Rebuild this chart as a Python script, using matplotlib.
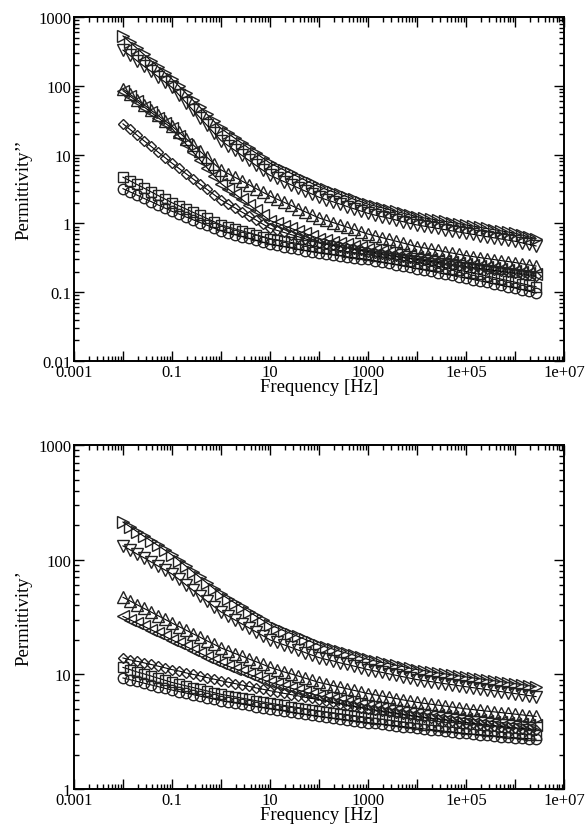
import matplotlib
matplotlib.use("Agg")
import matplotlib.pyplot as plt
from matplotlib.ticker import LogLocator, NullFormatter

plt.rcParams['font.family'] = ['Liberation Serif', 'DejaVu Serif']

# measurement frequencies [Hz], 7 points per decade
freq = [0.01, 0.0139, 0.0193, 0.0268, 0.0373, 0.0518, 0.072,
        0.1, 0.139, 0.193, 0.268, 0.373, 0.518, 0.72,
        1.0, 1.39, 1.93, 2.68, 3.73, 5.18, 7.2,
        10.0, 13.9, 19.3, 26.8, 37.3, 51.8, 72.0,
        100.0, 139.0, 193.0, 268.0, 373.0, 518.0, 720.0,
        1e3, 1.39e3, 1.93e3, 2.68e3, 3.73e3, 5.18e3, 7.2e3,
        1e4, 1.39e4, 1.93e4, 2.68e4, 3.73e4, 5.18e4, 7.2e4,
        1e5, 1.39e5, 1.93e5, 2.68e5, 3.73e5, 5.18e5, 7.2e5,
        1e6, 1.39e6, 1.93e6, 2.68e6]

# --- loss part (Permittivity'') ---
loss_right = [530, 431, 351, 285, 232, 189, 154,
              125, 98.7, 78.0, 61.6, 48.7, 38.5, 30.4,
              24.0, 20.3, 17.2, 14.6, 12.3, 10.5, 8.86,
              7.50, 6.70, 5.98, 5.34, 4.77, 4.26, 3.81,
              3.40, 3.13, 2.88, 2.65, 2.44, 2.24, 2.07,
              1.90, 1.79, 1.69, 1.59, 1.50, 1.41, 1.33,
              1.25, 1.20, 1.16, 1.11, 1.07, 1.03, 0.99,
              0.95, 0.913, 0.878, 0.844, 0.811, 0.779, 0.749,
              0.72, 0.678, 0.637, 0.60]
loss_down = [330, 276, 231, 193, 162, 136, 113,
             95, 73.7, 57.1, 44.3, 34.3, 26.6, 20.6,
             16, 13.5, 11.5, 9.72, 8.23, 6.97, 5.90,
             5.0, 4.50, 4.05, 3.65, 3.29, 2.96, 2.67,
             2.4, 2.22, 2.06, 1.91, 1.76, 1.63, 1.51,
             1.4, 1.32, 1.25, 1.19, 1.12, 1.06, 1.00,
             0.95, 0.913, 0.878, 0.844, 0.811, 0.779, 0.749,
             0.72, 0.693, 0.667, 0.641, 0.617, 0.594, 0.571,
             0.55, 0.522, 0.495, 0.47]
loss_up = [90, 75.4, 63.1, 52.9, 44.3, 37.1, 31.0,
           26, 21.1, 17.1, 13.9, 11.2, 9.12, 7.40,
           6.0, 5.30, 4.67, 4.12, 3.64, 3.21, 2.83,
           2.5, 2.25, 2.03, 1.83, 1.64, 1.48, 1.33,
           1.2, 1.11, 1.03, 0.953, 0.882, 0.817, 0.756,
           0.70, 0.659, 0.621, 0.585, 0.551, 0.519, 0.488,
           0.46, 0.441, 0.422, 0.404, 0.387, 0.371, 0.355,
           0.34, 0.329, 0.318, 0.308, 0.298, 0.288, 0.279,
           0.27, 0.259, 0.249, 0.24]
loss_left = [85, 71.0, 59.2, 49.4, 41.3, 34.4, 28.8,
             24, 18.4, 14.2, 10.9, 8.37, 6.43, 4.95,
             3.8, 3.18, 2.67, 2.23, 1.87, 1.57, 1.31,
             1.1, 1.01, 0.925, 0.848, 0.778, 0.714, 0.654,
             0.6, 0.572, 0.545, 0.520, 0.496, 0.473, 0.451,
             0.43, 0.414, 0.399, 0.384, 0.370, 0.356, 0.343,
             0.33, 0.319, 0.308, 0.298, 0.288, 0.278, 0.269,
             0.26, 0.251, 0.243, 0.235, 0.227, 0.219, 0.212,
             0.205, 0.198, 0.191, 0.185]
loss_diamond = [28, 23.2, 19.2, 15.9, 13.2, 10.9, 9.05,
                7.5, 6.30, 5.28, 4.44, 3.72, 3.12, 2.62,
                2.2, 1.92, 1.68, 1.46, 1.28, 1.12, 0.974,
                0.85, 0.792, 0.739, 0.688, 0.642, 0.598, 0.558,
                0.52, 0.499, 0.479, 0.460, 0.441, 0.423, 0.406,
                0.39, 0.376, 0.362, 0.348, 0.336, 0.323, 0.311,
                0.30, 0.290, 0.280, 0.270, 0.261, 0.252, 0.243,
                0.235, 0.228, 0.221, 0.215, 0.208, 0.202, 0.196,
                0.19, 0.184, 0.178, 0.172]
loss_square = [4.7, 4.16, 3.68, 3.26, 2.88, 2.55, 2.26,
               2.0, 1.80, 1.62, 1.45, 1.31, 1.18, 1.06,
               0.95, 0.890, 0.833, 0.780, 0.731, 0.684, 0.641,
               0.6, 0.576, 0.553, 0.530, 0.509, 0.489, 0.469,
               0.45, 0.434, 0.419, 0.404, 0.390, 0.376, 0.363,
               0.35, 0.337, 0.325, 0.313, 0.302, 0.291, 0.280,
               0.27, 0.259, 0.248, 0.237, 0.228, 0.218, 0.209,
               0.2, 0.190, 0.181, 0.172, 0.163, 0.155, 0.147,
               0.14, 0.133, 0.126, 0.12]
loss_circle = [3.2, 2.87, 2.58, 2.31, 2.08, 1.86, 1.67,
               1.5, 1.37, 1.24, 1.13, 1.03, 0.940, 0.856,
               0.78, 0.732, 0.687, 0.645, 0.605, 0.568, 0.533,
               0.5, 0.479, 0.459, 0.439, 0.421, 0.403, 0.386,
               0.37, 0.359, 0.348, 0.338, 0.328, 0.318, 0.309,
               0.3, 0.287, 0.275, 0.263, 0.251, 0.240, 0.230,
               0.22, 0.210, 0.201, 0.192, 0.183, 0.175, 0.167,
               0.16, 0.153, 0.146, 0.139, 0.132, 0.126, 0.121,
               0.115, 0.109, 0.103, 0.097]

# --- real part (Permittivity') ---
real_right = [213, 194, 176, 160, 146, 133, 121,
              110, 98.3, 87.8, 78.5, 70.1, 62.6, 56.0,
              50, 45.8, 41.9, 38.4, 35.2, 32.2, 29.5,
              27, 25.5, 24.0, 22.7, 21.4, 20.2, 19.1,
              18, 17.3, 16.6, 15.9, 15.3, 14.7, 14.1,
              13.5, 13.1, 12.7, 12.4, 12.0, 11.7, 11.3,
              11, 10.8, 10.5, 10.3, 10.1, 9.91, 9.70,
              9.5, 9.32, 9.14, 8.97, 8.80, 8.63, 8.46,
              8.3, 8.13, 7.96, 7.8]
real_down = [132, 122, 112, 104, 95.6, 88.1, 81.3,
             75, 67.3, 60.3, 54.1, 48.5, 43.5, 39.0,
             35, 32.3, 29.8, 27.5, 25.4, 23.5, 21.7,
             20, 19.0, 18.1, 17.2, 16.3, 15.5, 14.7,
             14, 13.5, 13.1, 12.6, 12.2, 11.8, 11.4,
             11, 10.7, 10.4, 10.1, 9.81, 9.53, 9.26,
             9, 8.82, 8.64, 8.46, 8.29, 8.13, 7.96,
             7.8, 7.65, 7.50, 7.36, 7.21, 7.07, 6.93,
             6.8, 6.66, 6.53, 6.4]
real_up = [47, 43.7, 40.5, 37.6, 35.0, 32.5, 30.2,
           28, 26.1, 24.3, 22.6, 21.1, 19.6, 18.3,
           17, 16.1, 15.2, 14.4, 13.6, 12.9, 12.2,
           11.5, 11.0, 10.5, 10.1, 9.68, 9.27, 8.88,
           8.5, 8.23, 7.98, 7.73, 7.48, 7.25, 7.02,
           6.8, 6.63, 6.47, 6.31, 6.15, 5.99, 5.85,
           5.7, 5.59, 5.49, 5.39, 5.29, 5.19, 5.10,
           5.0, 4.93, 4.85, 4.78, 4.71, 4.64, 4.57,
           4.5, 4.43, 4.36, 4.3]
real_left = [32, 29.9, 28.0, 26.2, 24.5, 22.9, 21.4,
             20, 18.7, 17.5, 16.4, 15.3, 14.3, 13.4,
             12.5, 11.8, 11.2, 10.6, 10.0, 9.49, 8.98,
             8.5, 8.18, 7.87, 7.58, 7.29, 7.02, 6.75,
             6.5, 6.31, 6.13, 5.96, 5.79, 5.62, 5.46,
             5.3, 5.19, 5.09, 4.99, 4.89, 4.79, 4.69,
             4.6, 4.53, 4.45, 4.38, 4.31, 4.24, 4.17,
             4.1, 4.04, 3.98, 3.92, 3.87, 3.81, 3.75,
             3.7, 3.67, 3.63, 3.6]
real_diamond = [13.9, 13.4, 13.0, 12.6, 12.2, 11.8, 11.4,
                11, 10.7, 10.3, 10.0, 9.69, 9.38, 9.09,
                8.8, 8.55, 8.31, 8.07, 7.85, 7.62, 7.41,
                7.2, 7.02, 6.83, 6.66, 6.49, 6.32, 6.16,
                6.0, 5.85, 5.70, 5.55, 5.41, 5.27, 5.13,
                5.0, 4.89, 4.79, 4.69, 4.59, 4.49, 4.39,
                4.3, 4.22, 4.15, 4.08, 4.01, 3.94, 3.87,
                3.8, 3.74, 3.68, 3.62, 3.57, 3.51, 3.45,
                3.4, 3.37, 3.33, 3.3]
real_square = [11.5, 11.0, 10.5, 10.1, 9.68, 9.27, 8.88,
               8.5, 8.22, 7.94, 7.68, 7.42, 7.17, 6.93,
               6.7, 6.53, 6.37, 6.20, 6.05, 5.89, 5.74,
               5.6, 5.48, 5.36, 5.24, 5.13, 5.02, 4.91,
               4.8, 4.71, 4.62, 4.53, 4.45, 4.36, 4.28,
               4.2, 4.12, 4.05, 3.98, 3.91, 3.84, 3.77,
               3.7, 3.65, 3.60, 3.55, 3.50, 3.45, 3.40,
               3.35, 3.31, 3.26, 3.22, 3.18, 3.13, 3.09,
               3.05, 3.02, 2.98, 2.95]
real_circle = [9.3, 8.98, 8.68, 8.38, 8.10, 7.82, 7.55,
               7.3, 7.08, 6.87, 6.66, 6.46, 6.27, 6.08,
               5.9, 5.76, 5.63, 5.50, 5.37, 5.24, 5.12,
               5.0, 4.89, 4.79, 4.69, 4.59, 4.49, 4.39,
               4.3, 4.22, 4.15, 4.08, 4.01, 3.94, 3.87,
               3.8, 3.74, 3.68, 3.62, 3.57, 3.51, 3.45,
               3.4, 3.35, 3.30, 3.25, 3.19, 3.15, 3.10,
               3.05, 3.01, 2.98, 2.94, 2.91, 2.87, 2.84,
               2.8, 2.77, 2.75, 2.72]

x_ticks = [1e-3, 1e-2, 1e-1, 1, 10, 100, 1e3, 1e4, 1e5, 1e6, 1e7]
x_tick_labels = ['0.001', '', '0.1', '', '10', '', '1000', '', '1e+05', '', '1e+07']
top_y_ticks = [0.01, 0.1, 1, 10, 100, 1000]
top_y_labels = ['0.01', '0.1', '1', '10', '100', '1000']
bot_y_ticks = [1, 10, 100, 1000]
bot_y_labels = ['1', '10', '100', '1000']

markers = ['>', 'v', '^', '<', 'D', 's', 'o']
sizes = [8, 8, 8, 8, 5, 7, 7.5]


def style_axes(ax, yticks, ylabels, ylim, ylabel):
    """ Grace-like log-log axes with inward ticks on every side. """
    ax.set_xscale('log')
    ax.set_yscale('log')
    ax.set_xlim(1e-3, 1e7)
    ax.set_ylim(*ylim)
    ax.set_xticks(x_ticks)
    ax.set_xticklabels(x_tick_labels)
    ax.set_yticks(yticks)
    ax.set_yticklabels(ylabels)
    ax.xaxis.set_minor_locator(LogLocator(base=10, subs=range(2, 10), numticks=30))
    ax.yaxis.set_minor_locator(LogLocator(base=10, subs=range(2, 10), numticks=30))
    ax.xaxis.set_minor_formatter(NullFormatter())
    ax.yaxis.set_minor_formatter(NullFormatter())
    ax.tick_params(which='both', direction='in', top=True, right=True,
                   width=1.0, labelsize=12, pad=2)
    ax.tick_params(which='major', length=7)
    ax.tick_params(which='minor', length=3.5)
    for s in ax.spines.values():
        s.set_linewidth(1.4)
    ax.set_xlabel('Frequency [Hz]', fontsize=13.5, labelpad=-1)
    ax.set_ylabel(ylabel, fontsize=13.5, labelpad=4)


fig = plt.figure(figsize=(5.87, 8.29), dpi=100)
ax1 = fig.add_axes([0.126, 0.5633, 0.835, 0.415])
ax2 = fig.add_axes([0.126, 0.047, 0.835, 0.415])

loss = [loss_right, loss_down, loss_up, loss_left, loss_diamond, loss_square, loss_circle]
real = [real_right, real_down, real_up, real_left, real_diamond, real_square, real_circle]

for ax, data in [(ax1, loss), (ax2, real)]:
    for y, m, ms in zip(data, markers, sizes):
        ax.plot(freq, y, color='black', lw=0.8, marker=m, ms=ms,
                mfc='none', mec='#222222', mew=1.0)

style_axes(ax1, top_y_ticks, top_y_labels, (0.01, 1000), 'Permittivity\u2019\u2019')
style_axes(ax2, bot_y_ticks, bot_y_labels, (1, 1000), 'Permittivity\u2019')

fig.savefig('out.png', dpi=100)
